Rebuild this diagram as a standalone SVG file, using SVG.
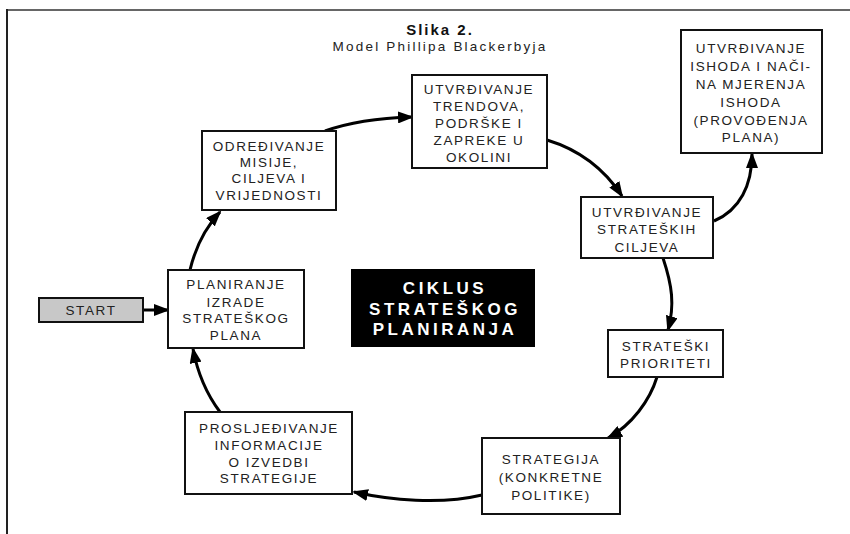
<svg xmlns="http://www.w3.org/2000/svg" width="850" height="534" viewBox="0 0 850 534">
<style>
.box{fill:#fff;stroke:#111;stroke-width:2}
.t{font-family:"Liberation Sans",Arial,sans-serif;font-size:13.5px;letter-spacing:1.6px;fill:#222;text-anchor:middle}
.c{font-family:"Liberation Sans",Arial,sans-serif;font-size:17px;font-weight:bold;letter-spacing:3.5px;fill:#fff;text-anchor:middle}
.conn{fill:none;stroke:#000;stroke-width:3;marker-end:url(#ah)}
</style>
<defs>
<marker id="ah" viewBox="0 0 16 12" refX="14" refY="6" markerWidth="16" markerHeight="12" markerUnits="userSpaceOnUse" orient="auto">
<path d="M0,0 L16,6 L0,12 z" fill="#000"/>
</marker>
</defs>
<rect width="850" height="534" fill="#fff"/>
<line x1="7" y1="10" x2="850" y2="10" stroke="#666" stroke-width="2"/>
<line x1="7" y1="9" x2="7" y2="534" stroke="#222" stroke-width="2"/>
<g id="title">
<text x="440" y="35" style="font-family:'Liberation Sans',Arial,sans-serif;font-size:15px;font-weight:bold;letter-spacing:2px;text-anchor:middle;fill:#111">Slika 2.</text>
<text x="440" y="51" style="font-family:'Liberation Sans',Arial,sans-serif;font-size:13.5px;letter-spacing:2.2px;text-anchor:middle;fill:#222">Model Phillipa Blackerbyja</text>
</g>
<g id="connectors">
<path class="conn" d="M143,310 L168,310"/>
<path class="conn" d="M190,270 C196,245 205,228 220,212"/>
<path class="conn" d="M325,131 C350,122 380,118 412,117"/>
<path class="conn" d="M547,140 C580,150 605,170 622,196"/>
<path class="conn" d="M714,221 C740,210 752,185 752,154"/>
<path class="conn" d="M663,258 C672,285 675,305 668,330"/>
<path class="conn" d="M657,377 C650,400 632,425 608,438"/>
<path class="conn" d="M482,495 C440,505 390,500 354,492"/>
<path class="conn" d="M220,412 C205,392 197,370 193,349"/>
</g>
<g id="start">
<rect x="39" y="298" width="104" height="24" fill="#c8c8c8" stroke="#111" stroke-width="2"/>
<text class="t" x="91" y="315">START</text>
</g>
<g id="planiranje">
<rect class="box" x="168" y="270" width="136" height="78"/>
<text class="t" x="236" y="289">PLANIRANJE</text>
<text class="t" x="236" y="307">IZRADE</text>
<text class="t" x="236" y="323">STRATEŠKOG</text>
<text class="t" x="236" y="340">PLANA</text>
</g>
<g id="odredivanje">
<rect class="box" x="202" y="131" width="134" height="79"/>
<text class="t" x="269" y="151">ODREĐIVANJE</text>
<text class="t" x="269" y="167">MISIJE,</text>
<text class="t" x="269" y="183">CILJEVA I</text>
<text class="t" x="269" y="200">VRIJEDNOSTI</text>
</g>
<g id="trendovi">
<rect class="box" x="412" y="75" width="135" height="93"/>
<text class="t" x="479" y="94">UTVRĐIVANJE</text>
<text class="t" x="479" y="111">TRENDOVA,</text>
<text class="t" x="479" y="128">PODRŠKE I</text>
<text class="t" x="479" y="145">ZAPREKE U</text>
<text class="t" x="479" y="162">OKOLINI</text>
</g>
<g id="ishodi">
<rect class="box" x="681" y="30" width="141" height="123"/>
<text class="t" x="751" y="53">UTVRĐIVANJE</text>
<text class="t" x="751" y="71">ISHODA I NAČI-</text>
<text class="t" x="751" y="89">NA MJERENJA</text>
<text class="t" x="751" y="107">ISHODA</text>
<text class="t" x="751" y="125">(PROVOĐENJA</text>
<text class="t" x="751" y="142">PLANA)</text>
</g>
<g id="ciljevi">
<rect class="box" x="581" y="197" width="132" height="61"/>
<text class="t" x="647" y="217">UTVRĐIVANJE</text>
<text class="t" x="647" y="234">STRATEŠKIH</text>
<text class="t" x="647" y="252">CILJEVA</text>
</g>
<g id="prioriteti">
<rect class="box" x="608" y="330" width="115" height="47"/>
<text class="t" x="666" y="351">STRATEŠKI</text>
<text class="t" x="666" y="368">PRIORITETI</text>
</g>
<g id="strategija">
<rect class="box" x="482" y="438" width="138" height="76"/>
<text class="t" x="551" y="464">STRATEGIJA</text>
<text class="t" x="551" y="482">(KONKRETNE</text>
<text class="t" x="551" y="500">POLITIKE)</text>
</g>
<g id="prosljedivanje">
<rect class="box" x="185" y="412" width="167" height="82"/>
<text class="t" x="269" y="433">PROSLJEĐIVANJE</text>
<text class="t" x="269" y="450">INFORMACIJE</text>
<text class="t" x="269" y="467">O IZVEDBI</text>
<text class="t" x="269" y="483">STRATEGIJE</text>
</g>
<g id="ciklus">
<rect x="351" y="269" width="184" height="78" fill="#000"/>
<text class="c" x="445" y="294">CIKLUS</text>
<text class="c" x="445" y="315">STRATEŠKOG</text>
<text class="c" x="445" y="335">PLANIRANJA</text>
</g>
</svg>
